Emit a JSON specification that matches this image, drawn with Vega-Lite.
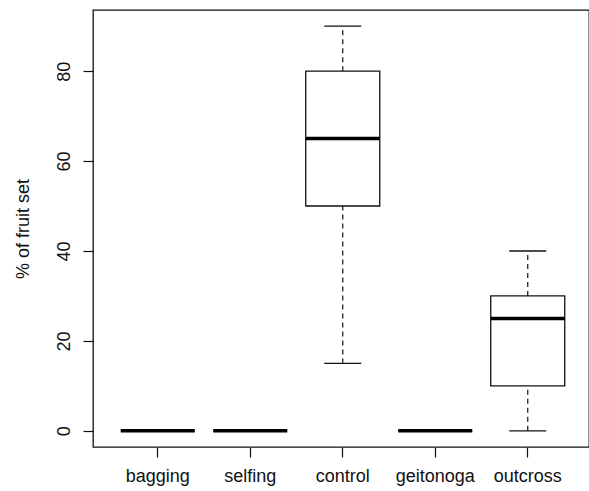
{
  "$schema": "https://vega.github.io/schema/vega-lite/v6.json",
  "width": 496,
  "height": 437,
  "autosize": "none",
  "padding": {"left": 93, "top": 10, "right": 0, "bottom": 44},
  "background": "white",
  "config": {
    "font": "Liberation Sans",
    "view": {"stroke": "#111", "strokeWidth": 1.3},
    "axis": {"grid": false, "domain": false, "tickColor": "#111", "tickWidth": 1.2, "tickSize": 10, "labelColor": "#111", "titleColor": "#111", "labelFont": "Liberation Sans", "titleFont": "Liberation Sans"}
  },
  "data": {
    "values": [
      {"group": "bagging", "min": 0, "q1": 0, "median": 0, "q3": 0, "max": 0},
      {"group": "selfing", "min": 0, "q1": 0, "median": 0, "q3": 0, "max": 0},
      {"group": "control", "min": 15, "q1": 50, "median": 65, "q3": 80, "max": 90},
      {"group": "geitonoga", "min": 0, "q1": 0, "median": 0, "q3": 0, "max": 0},
      {"group": "outcross", "min": 0, "q1": 10, "median": 25, "q3": 30, "max": 40}
    ]
  },
  "encoding": {
    "x": {
      "field": "group",
      "type": "nominal",
      "sort": null,
      "scale": {"range": [0, 499.5], "paddingInner": 0, "paddingOuter": 0.2},
      "axis": {"title": null, "labelAngle": 0, "labelFontSize": 18, "labelPadding": 10}
    }
  },
  "layer": [
    {
      "mark": {"type": "rule", "strokeDash": [5, 4], "strokeWidth": 1.2, "color": "#111", "opacity": 1},
      "encoding": {
        "y": {
          "field": "min",
          "type": "quantitative",
          "scale": {"domain": [-3.6, 93.6], "nice": false, "zero": false},
          "axis": {"title": "% of fruit set", "values": [0, 20, 40, 60, 80], "labelAngle": -90, "labelFontSize": 18, "labelPadding": 10, "titleFontSize": 18, "titleFontWeight": "normal", "titlePadding": 23}
        },
        "y2": {"field": "q1"}
      }
    },
    {
      "mark": {"type": "rule", "strokeDash": [5, 4], "strokeWidth": 1.2, "color": "#111", "opacity": 1},
      "encoding": {"y": {"field": "q3", "type": "quantitative"}, "y2": {"field": "max"}}
    },
    {
      "mark": {"type": "tick", "size": 37, "thickness": 1.3, "color": "#111", "opacity": 1},
      "encoding": {"y": {"field": "min", "type": "quantitative"}}
    },
    {
      "mark": {"type": "tick", "size": 37, "thickness": 1.3, "color": "#111", "opacity": 1},
      "encoding": {"y": {"field": "max", "type": "quantitative"}}
    },
    {
      "mark": {"type": "bar", "width": {"band": 0.8}, "fill": "white", "stroke": "#111", "strokeWidth": 1.3, "opacity": 1},
      "encoding": {"y": {"field": "q1", "type": "quantitative"}, "y2": {"field": "q3"}}
    },
    {
      "mark": {"type": "tick", "size": 74, "thickness": 3.5, "color": "#000", "opacity": 1},
      "encoding": {"y": {"field": "median", "type": "quantitative"}}
    }
  ]
}
